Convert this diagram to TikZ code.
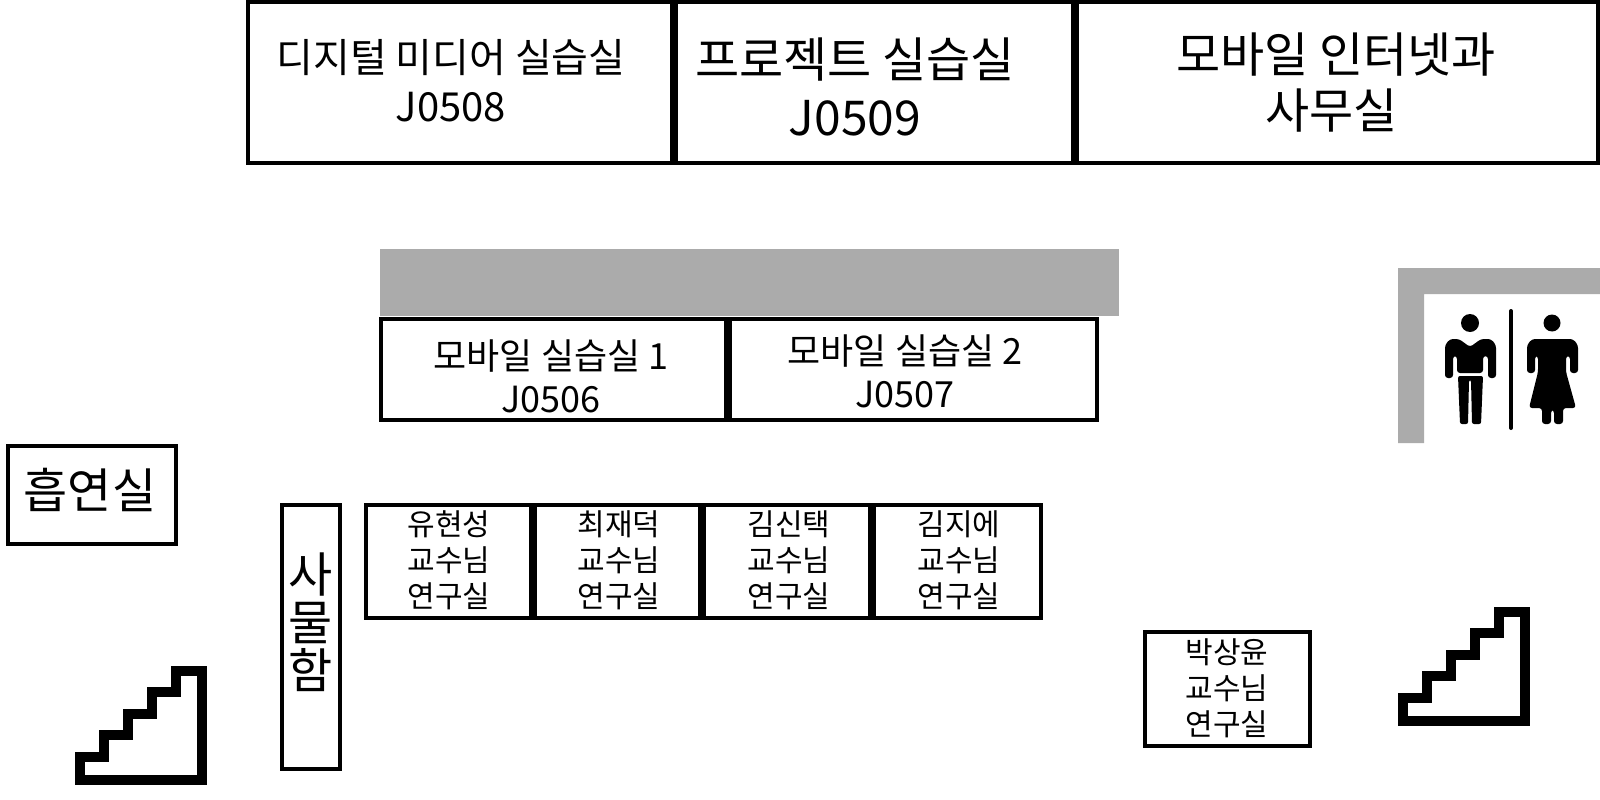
\documentclass[tikz,border=0pt]{standalone}
\usepackage{fontspec}
\setmainfont{Noto Sans CJK KR}
\definecolor{wallgray}{HTML}{ABABAB}
\tikzset{
	every node/.style={draw=none,rectangle,outer sep=0pt,inner sep=0pt,align=center},
	room/.style={draw=black,line width=4.5pt},
	wall/.style={fill=wallgray,draw=none},
	figure/.style={fill=black,draw=none},
	bigroom/.style={font=\fontsize{48}{58}\selectfont},
	deptroom/.style={font=\fontsize{48}{56}\selectfont},
	midroom/.style={font=\fontsize{40}{49}\selectfont},
	lab/.style={font=\fontsize{36}{43}\selectfont},
	office/.style={font=\fontsize{30}{36}\selectfont},
	smokeroom/.style={font=\fontsize{48}{54}\selectfont},
	tallroom/.style={font=\fontsize{48}{48}\selectfont},
	stairs/.pic={
		\draw[line width=10pt,miter limit=10] (5,114) -- (5,91) -- (29,91) -- (29,69) -- (53,69) -- (53,48) -- (77,48) -- (77,26) -- (101,26) -- (101,5) -- (127,5) -- (127,114) -- cycle;
	}
}
\begin{document}
\begin{tikzpicture}[x=1pt,y=-1pt]
	\useasboundingbox (0,0) rectangle (1600,800);

	% top row
	\draw[room] (248,2) rectangle (672,163);
	\draw[room] (676,2) rectangle (1073,163);
	\draw[room] (1077,2) rectangle (1598,163);
	\node[midroom] (j0508) at (451,81) {디지털 미디어 실습실\\J0508};
	\node[bigroom] (j0509) at (855,86.5) {프로젝트 실습실\\J0509};
	\node[deptroom] (dept) at (1336,82.5) {모바일 인터넷과\\사무실\hspace*{9pt}};

	% gray walls
	\fill[wall] (380,249) rectangle (1119,316);
	\fill[wall] (1398,268) -- (1600,268) -- (1600,294) -- (1424,294) -- (1424,443) -- (1398,443) -- cycle;

	% mobile labs
	\draw[room] (381,319) rectangle (726,420);
	\draw[room] (730,319) rectangle (1097,420);
	\node[lab] (j0506) at (551,376.5) {모바일 실습실 1\\J0506};
	\node[lab] (j0507) at (905,371.5) {모바일 실습실 2\\J0507};

	% left side
	\draw[room] (8,446) rectangle (176,544);
	\node[smokeroom] (smoking) at (90,490) {흡연실};
	\draw[room] (282,505) rectangle (340,769);
	\node[tallroom] (lockers) at (311,622) {사\\물\\함};

	% offices
	\draw[room] (366,505) rectangle (531,618);
	\draw[room] (535,505) rectangle (700,618);
	\draw[room] (704,505) rectangle (870,618);
	\draw[room] (874,505) rectangle (1041,618);
	\draw[room] (1145,632) rectangle (1310,746);
	\node[office] (yoo) at (449,560) {유현성\\교수님\\연구실};
	\node[office] (choi) at (619,560) {최재덕\\교수님\\연구실};
	\node[office] (kimss) at (789,560) {김신택\\교수님\\연구실};
	\node[office] (kimje) at (959,560) {김지에\\교수님\\연구실};
	\node[office] (park) at (1227,688) {박상윤\\교수님\\연구실};

	% stairs
	\pic at (75,666) {stairs};
	\pic at (1398,607) {stairs};

	% restroom sign
	\fill[figure] (1470,323) circle (9);
	\fill[figure] (1552,323) circle (8.5);
	\draw[line width=4pt,line cap=round] (1511,311) -- (1511,428);
	% man
	\fill[figure,rounded corners=3pt] (1445,378) -- (1445,345) -- (1450,339) -- (1459,339) -- (1470,347) -- (1481,339) -- (1491,339) -- (1496,345) -- (1496,378) -- (1488,378) -- (1488,356) -- (1483,356) -- (1483,373) -- (1457,373) -- (1457,356) -- (1453,356) -- (1453,378) -- cycle;
	\fill[figure,rounded corners=2pt] (1458,376) -- (1483,376) -- (1481,424) -- (1472,424) -- (1471,380) -- (1469,380) -- (1468,424) -- (1460,424) -- cycle;
	% woman
	\fill[figure,rounded corners=3pt] (1527,373) -- (1527,345) -- (1532,339) -- (1573,339) -- (1578,345) -- (1578,373) -- (1570,373) -- (1570,356) -- (1566,356) -- (1566,372) -- (1576,408) -- (1563,408) -- (1563,424) -- (1554,424) -- (1554,410) -- (1551,410) -- (1551,424) -- (1542,424) -- (1542,408) -- (1529,408) -- (1538,372) -- (1538,356) -- (1535,356) -- (1535,373) -- cycle;
\end{tikzpicture}
\end{document}
